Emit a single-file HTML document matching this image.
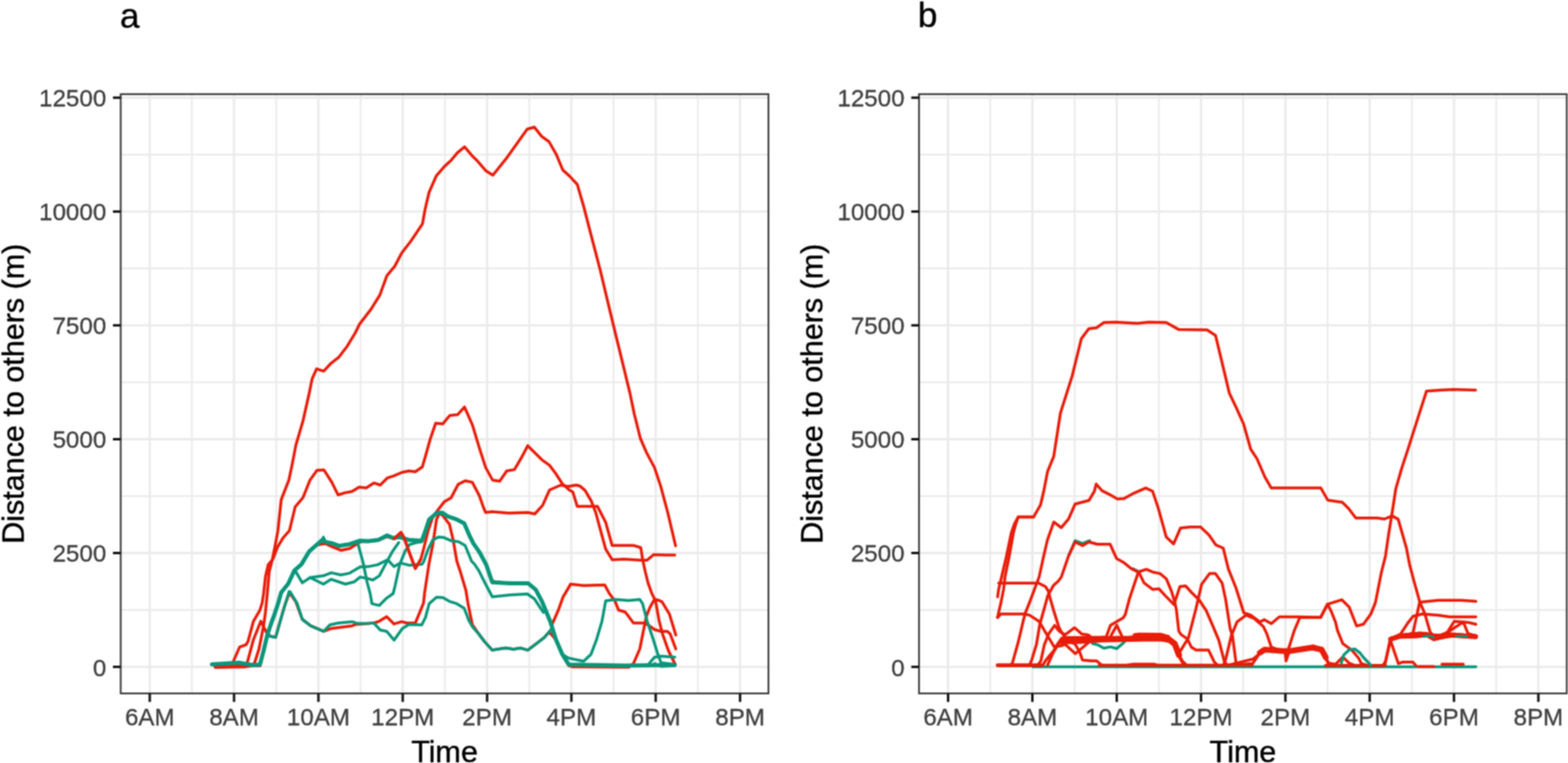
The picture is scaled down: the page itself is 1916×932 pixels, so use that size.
<!DOCTYPE html>
<html><head><meta charset="utf-8"><title>Distance to others</title>
<style>html,body{margin:0;padding:0;background:#fff;}svg{display:block;}</style>
</head><body>
<svg width="1916" height="932" viewBox="0 0 1916 932">
<style>
text{font-family:"Liberation Sans",Arial,sans-serif;}
.tk{font-size:29.5px;fill:#3F3F3F;stroke:#3F3F3F;stroke-width:0.35px;}
.ti{font-size:37.3px;fill:#000;stroke:#000;stroke-width:0.5px;}
.tg{font-size:43px;fill:#000;stroke:#000;stroke-width:0.4px;}
</style>
<defs><filter id="soft" filterUnits="userSpaceOnUse" x="-8" y="-8" width="1932" height="948" color-interpolation-filters="sRGB"><feConvolveMatrix order="3" kernelMatrix="1 2 1 2 4 2 1 2 1" divisor="16" edgeMode="none"/></filter></defs>
<g filter="url(#soft)">
<rect width="1916" height="932" fill="#fff"/>
<clipPath id="clip0"><rect x="147.5" y="115.0" width="791.5" height="732.0"/></clipPath>
<g clip-path="url(#clip0)">
<line x1="234.5" y1="115.0" x2="234.5" y2="847.0" stroke="#EBEBEB" stroke-width="2.2"/>
<line x1="337.6" y1="115.0" x2="337.6" y2="847.0" stroke="#EBEBEB" stroke-width="2.2"/>
<line x1="440.6" y1="115.0" x2="440.6" y2="847.0" stroke="#EBEBEB" stroke-width="2.2"/>
<line x1="543.6" y1="115.0" x2="543.6" y2="847.0" stroke="#EBEBEB" stroke-width="2.2"/>
<line x1="646.7" y1="115.0" x2="646.7" y2="847.0" stroke="#EBEBEB" stroke-width="2.2"/>
<line x1="749.7" y1="115.0" x2="749.7" y2="847.0" stroke="#EBEBEB" stroke-width="2.2"/>
<line x1="852.8" y1="115.0" x2="852.8" y2="847.0" stroke="#EBEBEB" stroke-width="2.2"/>
<line x1="147.5" y1="745.1" x2="939.0" y2="745.1" stroke="#EBEBEB" stroke-width="2.2"/>
<line x1="147.5" y1="606.0" x2="939.0" y2="606.0" stroke="#EBEBEB" stroke-width="2.2"/>
<line x1="147.5" y1="467.0" x2="939.0" y2="467.0" stroke="#EBEBEB" stroke-width="2.2"/>
<line x1="147.5" y1="327.9" x2="939.0" y2="327.9" stroke="#EBEBEB" stroke-width="2.2"/>
<line x1="147.5" y1="188.8" x2="939.0" y2="188.8" stroke="#EBEBEB" stroke-width="2.2"/>
<line x1="183.0" y1="115.0" x2="183.0" y2="847.0" stroke="#EBEBEB" stroke-width="2.9"/>
<line x1="286.0" y1="115.0" x2="286.0" y2="847.0" stroke="#EBEBEB" stroke-width="2.9"/>
<line x1="389.1" y1="115.0" x2="389.1" y2="847.0" stroke="#EBEBEB" stroke-width="2.9"/>
<line x1="492.1" y1="115.0" x2="492.1" y2="847.0" stroke="#EBEBEB" stroke-width="2.9"/>
<line x1="595.2" y1="115.0" x2="595.2" y2="847.0" stroke="#EBEBEB" stroke-width="2.9"/>
<line x1="698.2" y1="115.0" x2="698.2" y2="847.0" stroke="#EBEBEB" stroke-width="2.9"/>
<line x1="801.2" y1="115.0" x2="801.2" y2="847.0" stroke="#EBEBEB" stroke-width="2.9"/>
<line x1="904.3" y1="115.0" x2="904.3" y2="847.0" stroke="#EBEBEB" stroke-width="2.9"/>
<line x1="147.5" y1="814.6" x2="939.0" y2="814.6" stroke="#EBEBEB" stroke-width="2.9"/>
<line x1="147.5" y1="675.5" x2="939.0" y2="675.5" stroke="#EBEBEB" stroke-width="2.9"/>
<line x1="147.5" y1="536.5" x2="939.0" y2="536.5" stroke="#EBEBEB" stroke-width="2.9"/>
<line x1="147.5" y1="397.4" x2="939.0" y2="397.4" stroke="#EBEBEB" stroke-width="2.9"/>
<line x1="147.5" y1="258.4" x2="939.0" y2="258.4" stroke="#EBEBEB" stroke-width="2.9"/>
<line x1="147.5" y1="119.3" x2="939.0" y2="119.3" stroke="#EBEBEB" stroke-width="2.9"/>
</g>
<rect x="147.5" y="115.0" width="791.5" height="732.0" fill="none" stroke="#3C3C3C" stroke-width="2.2"/>
<line x1="138.0" y1="814.6" x2="147.5" y2="814.6" stroke="#141414" stroke-width="3.0"/>
<text transform="translate(129.8,825.5) scale(1,1.0)" text-anchor="end" class="tk">0</text>
<line x1="138.0" y1="675.5" x2="147.5" y2="675.5" stroke="#141414" stroke-width="3.0"/>
<text transform="translate(129.8,686.4) scale(1,1.0)" text-anchor="end" class="tk">2500</text>
<line x1="138.0" y1="536.5" x2="147.5" y2="536.5" stroke="#141414" stroke-width="3.0"/>
<text transform="translate(129.8,547.4) scale(1,1.0)" text-anchor="end" class="tk">5000</text>
<line x1="138.0" y1="397.4" x2="147.5" y2="397.4" stroke="#141414" stroke-width="3.0"/>
<text transform="translate(129.8,408.3) scale(1,1.0)" text-anchor="end" class="tk">7500</text>
<line x1="138.0" y1="258.4" x2="147.5" y2="258.4" stroke="#141414" stroke-width="3.0"/>
<text transform="translate(129.8,269.3) scale(1,1.0)" text-anchor="end" class="tk">10000</text>
<line x1="138.0" y1="119.3" x2="147.5" y2="119.3" stroke="#141414" stroke-width="3.0"/>
<text transform="translate(129.8,130.2) scale(1,1.0)" text-anchor="end" class="tk">12500</text>
<line x1="183.0" y1="847.0" x2="183.0" y2="857.4" stroke="#141414" stroke-width="3.0"/>
<text transform="translate(183.0,886.2) scale(1,1.0)" text-anchor="middle" class="tk">6AM</text>
<line x1="286.0" y1="847.0" x2="286.0" y2="857.4" stroke="#141414" stroke-width="3.0"/>
<text transform="translate(286.0,886.2) scale(1,1.0)" text-anchor="middle" class="tk">8AM</text>
<line x1="389.1" y1="847.0" x2="389.1" y2="857.4" stroke="#141414" stroke-width="3.0"/>
<text transform="translate(389.1,886.2) scale(1,1.0)" text-anchor="middle" class="tk">10AM</text>
<line x1="492.1" y1="847.0" x2="492.1" y2="857.4" stroke="#141414" stroke-width="3.0"/>
<text transform="translate(492.1,886.2) scale(1,1.0)" text-anchor="middle" class="tk">12PM</text>
<line x1="595.2" y1="847.0" x2="595.2" y2="857.4" stroke="#141414" stroke-width="3.0"/>
<text transform="translate(595.2,886.2) scale(1,1.0)" text-anchor="middle" class="tk">2PM</text>
<line x1="698.2" y1="847.0" x2="698.2" y2="857.4" stroke="#141414" stroke-width="3.0"/>
<text transform="translate(698.2,886.2) scale(1,1.0)" text-anchor="middle" class="tk">4PM</text>
<line x1="801.2" y1="847.0" x2="801.2" y2="857.4" stroke="#141414" stroke-width="3.0"/>
<text transform="translate(801.2,886.2) scale(1,1.0)" text-anchor="middle" class="tk">6PM</text>
<line x1="904.3" y1="847.0" x2="904.3" y2="857.4" stroke="#141414" stroke-width="3.0"/>
<text transform="translate(904.3,886.2) scale(1,1.0)" text-anchor="middle" class="tk">8PM</text>
<text x="543.2" y="930.5" text-anchor="middle" class="ti">Time</text>
<text transform="translate(29.0,480.9) rotate(-90)" text-anchor="middle" class="ti">Distance to others (m)</text>
<clipPath id="clip975"><rect x="1123.0" y="115.0" width="791.5" height="732.0"/></clipPath>
<g clip-path="url(#clip975)">
<line x1="1210.0" y1="115.0" x2="1210.0" y2="847.0" stroke="#EBEBEB" stroke-width="2.2"/>
<line x1="1313.1" y1="115.0" x2="1313.1" y2="847.0" stroke="#EBEBEB" stroke-width="2.2"/>
<line x1="1416.1" y1="115.0" x2="1416.1" y2="847.0" stroke="#EBEBEB" stroke-width="2.2"/>
<line x1="1519.1" y1="115.0" x2="1519.1" y2="847.0" stroke="#EBEBEB" stroke-width="2.2"/>
<line x1="1622.2" y1="115.0" x2="1622.2" y2="847.0" stroke="#EBEBEB" stroke-width="2.2"/>
<line x1="1725.2" y1="115.0" x2="1725.2" y2="847.0" stroke="#EBEBEB" stroke-width="2.2"/>
<line x1="1828.3" y1="115.0" x2="1828.3" y2="847.0" stroke="#EBEBEB" stroke-width="2.2"/>
<line x1="1123.0" y1="745.1" x2="1914.5" y2="745.1" stroke="#EBEBEB" stroke-width="2.2"/>
<line x1="1123.0" y1="606.0" x2="1914.5" y2="606.0" stroke="#EBEBEB" stroke-width="2.2"/>
<line x1="1123.0" y1="467.0" x2="1914.5" y2="467.0" stroke="#EBEBEB" stroke-width="2.2"/>
<line x1="1123.0" y1="327.9" x2="1914.5" y2="327.9" stroke="#EBEBEB" stroke-width="2.2"/>
<line x1="1123.0" y1="188.8" x2="1914.5" y2="188.8" stroke="#EBEBEB" stroke-width="2.2"/>
<line x1="1158.5" y1="115.0" x2="1158.5" y2="847.0" stroke="#EBEBEB" stroke-width="2.9"/>
<line x1="1261.5" y1="115.0" x2="1261.5" y2="847.0" stroke="#EBEBEB" stroke-width="2.9"/>
<line x1="1364.6" y1="115.0" x2="1364.6" y2="847.0" stroke="#EBEBEB" stroke-width="2.9"/>
<line x1="1467.6" y1="115.0" x2="1467.6" y2="847.0" stroke="#EBEBEB" stroke-width="2.9"/>
<line x1="1570.7" y1="115.0" x2="1570.7" y2="847.0" stroke="#EBEBEB" stroke-width="2.9"/>
<line x1="1673.7" y1="115.0" x2="1673.7" y2="847.0" stroke="#EBEBEB" stroke-width="2.9"/>
<line x1="1776.7" y1="115.0" x2="1776.7" y2="847.0" stroke="#EBEBEB" stroke-width="2.9"/>
<line x1="1879.8" y1="115.0" x2="1879.8" y2="847.0" stroke="#EBEBEB" stroke-width="2.9"/>
<line x1="1123.0" y1="814.6" x2="1914.5" y2="814.6" stroke="#EBEBEB" stroke-width="2.9"/>
<line x1="1123.0" y1="675.5" x2="1914.5" y2="675.5" stroke="#EBEBEB" stroke-width="2.9"/>
<line x1="1123.0" y1="536.5" x2="1914.5" y2="536.5" stroke="#EBEBEB" stroke-width="2.9"/>
<line x1="1123.0" y1="397.4" x2="1914.5" y2="397.4" stroke="#EBEBEB" stroke-width="2.9"/>
<line x1="1123.0" y1="258.4" x2="1914.5" y2="258.4" stroke="#EBEBEB" stroke-width="2.9"/>
<line x1="1123.0" y1="119.3" x2="1914.5" y2="119.3" stroke="#EBEBEB" stroke-width="2.9"/>
</g>
<rect x="1123.0" y="115.0" width="791.5" height="732.0" fill="none" stroke="#3C3C3C" stroke-width="2.2"/>
<line x1="1113.5" y1="814.6" x2="1123.0" y2="814.6" stroke="#141414" stroke-width="3.0"/>
<text transform="translate(1105.3,825.5) scale(1,1.0)" text-anchor="end" class="tk">0</text>
<line x1="1113.5" y1="675.5" x2="1123.0" y2="675.5" stroke="#141414" stroke-width="3.0"/>
<text transform="translate(1105.3,686.4) scale(1,1.0)" text-anchor="end" class="tk">2500</text>
<line x1="1113.5" y1="536.5" x2="1123.0" y2="536.5" stroke="#141414" stroke-width="3.0"/>
<text transform="translate(1105.3,547.4) scale(1,1.0)" text-anchor="end" class="tk">5000</text>
<line x1="1113.5" y1="397.4" x2="1123.0" y2="397.4" stroke="#141414" stroke-width="3.0"/>
<text transform="translate(1105.3,408.3) scale(1,1.0)" text-anchor="end" class="tk">7500</text>
<line x1="1113.5" y1="258.4" x2="1123.0" y2="258.4" stroke="#141414" stroke-width="3.0"/>
<text transform="translate(1105.3,269.3) scale(1,1.0)" text-anchor="end" class="tk">10000</text>
<line x1="1113.5" y1="119.3" x2="1123.0" y2="119.3" stroke="#141414" stroke-width="3.0"/>
<text transform="translate(1105.3,130.2) scale(1,1.0)" text-anchor="end" class="tk">12500</text>
<line x1="1158.5" y1="847.0" x2="1158.5" y2="857.4" stroke="#141414" stroke-width="3.0"/>
<text transform="translate(1158.5,886.2) scale(1,1.0)" text-anchor="middle" class="tk">6AM</text>
<line x1="1261.5" y1="847.0" x2="1261.5" y2="857.4" stroke="#141414" stroke-width="3.0"/>
<text transform="translate(1261.5,886.2) scale(1,1.0)" text-anchor="middle" class="tk">8AM</text>
<line x1="1364.6" y1="847.0" x2="1364.6" y2="857.4" stroke="#141414" stroke-width="3.0"/>
<text transform="translate(1364.6,886.2) scale(1,1.0)" text-anchor="middle" class="tk">10AM</text>
<line x1="1467.6" y1="847.0" x2="1467.6" y2="857.4" stroke="#141414" stroke-width="3.0"/>
<text transform="translate(1467.6,886.2) scale(1,1.0)" text-anchor="middle" class="tk">12PM</text>
<line x1="1570.7" y1="847.0" x2="1570.7" y2="857.4" stroke="#141414" stroke-width="3.0"/>
<text transform="translate(1570.7,886.2) scale(1,1.0)" text-anchor="middle" class="tk">2PM</text>
<line x1="1673.7" y1="847.0" x2="1673.7" y2="857.4" stroke="#141414" stroke-width="3.0"/>
<text transform="translate(1673.7,886.2) scale(1,1.0)" text-anchor="middle" class="tk">4PM</text>
<line x1="1776.7" y1="847.0" x2="1776.7" y2="857.4" stroke="#141414" stroke-width="3.0"/>
<text transform="translate(1776.7,886.2) scale(1,1.0)" text-anchor="middle" class="tk">6PM</text>
<line x1="1879.8" y1="847.0" x2="1879.8" y2="857.4" stroke="#141414" stroke-width="3.0"/>
<text transform="translate(1879.8,886.2) scale(1,1.0)" text-anchor="middle" class="tk">8PM</text>
<text x="1518.8" y="930.5" text-anchor="middle" class="ti">Time</text>
<text transform="translate(1004.5,480.9) rotate(-90)" text-anchor="middle" class="ti">Distance to others (m)</text>
<g>
<polyline points="263.0,814.8 317.6,813.0 322.1,794.9 326.6,775.7 331.1,762.2 335.6,749.8 340.1,736.3 343.6,723.7 352.2,713.0 359.7,696.9 368.3,689.4 378.0,673.3 386.5,665.8 395.1,658.5 397.3,662.0 405.9,663.6 414.5,666.8 427.3,664.7 440.0,660.4 450.0,661.1 462.4,659.4 473.1,654.0 480.4,657.2 488.3,656.1 499.6,659.4 515.4,660.6 519.9,648.2 524.4,634.6 533.4,626.8 540.1,626.2 546.9,630.7 557.0,634.1 567.2,639.2 574.0,654.9 578.5,663.9 586.3,675.2 594.2,689.9 601.5,710.1 613.4,711.8 645.2,712.4 654.7,720.3 662.4,734.9 672.7,760.0 674.5,763.0 682.7,744.2 688.3,728.4 690.6,725.0 697.3,713.5 713.1,715.2 739.0,714.6 744.6,725.0 751.4,734.0 755.9,745.3 763.8,747.5 768.3,753.2 774.0,761.0 786.3,761.0 792.0,763.3 799.9,769.0 807.7,771.2 815.6,771.2 819.0,774.6 825.8,792.6" fill="none" stroke="#E81C0A" stroke-width="3.5" stroke-linejoin="round" stroke-linecap="round"/>
<polyline points="263.0,814.8 299.0,814.5 301.8,810.6 309.7,781.3 318.7,758.8 325.5,772.3 330.0,777.0 336.8,778.5 342.4,758.8 348.0,739.6 353.7,724.0 361.5,735.1 369.4,756.5 379.6,764.4 395.4,771.2 404.4,767.8 430.3,764.4 434.8,762.7 456.8,761.0 463.5,758.8 472.5,753.2 481.5,762.2 490.6,759.4 497.3,761.0 507.5,761.0 513.1,747.5 517.6,736.3 518.7,725.0 524.4,687.6 528.9,665.1 533.4,634.6 536.5,628.0 540.0,628.5 549.2,640.3 553.7,659.4 558.2,685.4 562.7,698.9 569.4,721.4 571.7,736.3 575.1,753.2 577.3,763.3 585.2,774.6 592.0,783.6 601.5,794.1 617.9,791.6 627.6,792.9 636.3,791.6 644.9,794.1 656.5,785.4 665.2,778.6 671.0,771.9 679.3,781.3 687.2,799.4 695.1,813.0 700.0,814.5 768.3,815.0 774.0,810.6 781.8,792.6 786.3,770.1 789.7,753.2 794.2,741.9 799.9,731.8 805.5,733.5 808.9,735.1 817.9,749.8 825.8,775.7" fill="none" stroke="#E81C0A" stroke-width="3.5" stroke-linejoin="round" stroke-linecap="round"/>
<polyline points="263.0,814.8 317.6,813.0 322.1,794.9 326.6,775.7 331.1,762.2 335.6,749.8 340.1,736.3 343.6,723.7 352.2,713.0 359.7,696.9 368.3,689.4 378.0,673.3 386.5,665.8 397.3,664.0 405.9,667.9 416.6,672.2 427.3,670.0 436.0,664.5 441.0,661.5 450.0,661.5 462.4,660.0 473.0,655.5 481.5,658.0 490.0,650.4 493.9,657.2 500.7,676.3 507.5,694.4 514.2,683.1 517.6,670.7 523.2,648.2 528.9,631.3 534.1,624.3 542.7,613.1 551.3,607.9 559.9,591.6 568.5,587.3 577.1,589.1 585.7,605.4 590.8,620.0 593.4,626.0 601.1,625.1 621.7,626.8 644.9,626.0 653.5,627.7 663.0,617.4 671.5,598.5 685.3,592.5 693.9,594.2 704.2,592.5 708.6,593.7 715.0,599.1 722.5,612.0 727.9,625.9 734.3,649.5 740.1,670.7 748.0,683.7 762.7,683.1 783.0,684.2 790.8,684.2 798.7,677.5 813.4,678.0 824.6,678.0" fill="none" stroke="#E81C0A" stroke-width="3.5" stroke-linejoin="round" stroke-linecap="round"/>
<polyline points="263.0,814.8 282.0,814.5 284.9,808.4 292.8,790.4 300.7,787.5 303.0,783.6 309.7,758.8 317.6,745.3 320.4,736.3 322.1,725.0 324.4,704.5 327.7,689.9 333.4,683.1 339.0,668.5 345.8,657.2 353.7,648.2 360.7,619.1 370.2,607.9 378.8,586.4 387.3,574.4 395.9,574.1 405.4,589.0 413.1,604.5 421.7,601.9 430.3,600.2 438.8,595.0 447.4,595.9 456.9,589.9 464.6,592.5 473.2,583.9 480.9,581.3 491.2,577.0 499.8,575.3 507.5,576.2 516.1,570.2 520.4,555.6 525.6,536.7 532.4,516.9 541.0,517.8 549.6,507.5 559.1,506.6 567.6,497.2 577.1,518.6 585.7,547.0 593.4,571.0 602.0,586.5 610.6,587.8 619.2,575.3 628.6,573.6 637.2,559.0 644.9,544.4 653.5,553.0 662.1,561.6 671.5,568.4 679.3,578.7 687.0,590.8 695.6,598.5 700.0,601.0 705.4,618.4 730.0,618.4 740.1,638.0 748.0,666.2 773.9,666.2 783.0,669.0 785.2,683.1 788.6,698.9 792.0,712.4 796.5,725.0 801.0,734.0 805.5,758.8 810.0,775.7 816.8,794.9 823.5,808.4 825.0,811.0" fill="none" stroke="#E81C0A" stroke-width="3.5" stroke-linejoin="round" stroke-linecap="round"/>
<polyline points="263.0,814.8 300.0,814.5 306.0,813.0 310.8,810.6 316.5,792.6 322.1,764.4 324.4,747.5 326.6,725.0 328.9,698.9 332.8,683.1 335.6,669.6 339.6,648.2 343.6,610.5 353.0,586.4 357.3,565.8 361.6,543.5 370.2,514.3 377.9,480.0 381.5,462.4 386.9,450.6 395.5,453.4 404.0,444.2 413.7,436.7 424.4,422.7 434.1,406.6 439.4,395.9 453.4,377.6 464.1,360.5 472.7,336.9 482.4,325.1 490.9,309.0 501.7,295.0 516.2,273.6 519.4,255.9 524.3,235.0 533.1,214.9 542.8,203.6 550.8,196.3 558.9,186.7 567.7,179.4 576.6,189.9 583.8,197.1 593.5,208.4 602.3,214.0 618.4,193.9 644.2,157.7 653.0,155.3 661.9,166.6 670.8,173.0 679.6,188.3 687.7,207.6 695.7,214.9 705.4,225.3 713.4,252.7 720.4,280.0 733.3,329.4 746.1,383.0 769.7,480.0 775.1,505.8 782.6,535.8 790.1,553.0 799.8,571.2 807.3,593.7 815.9,625.9 825.5,666.7" fill="none" stroke="#E81C0A" stroke-width="3.5" stroke-linejoin="round" stroke-linecap="round"/>
<polyline points="259.0,811.5 291.7,809.5 309.7,812.5 317.6,811.8 322.1,794.9 326.6,775.7 331.1,762.2 335.6,749.8 340.1,736.3 343.6,723.7 352.2,713.0 359.7,696.9 368.3,689.4 378.0,673.3 386.5,665.8 395.1,658.5 397.3,662.0 405.9,663.6 414.5,666.8 427.3,664.7 440.0,660.4 450.0,661.1 462.4,659.4 473.1,654.0 480.4,657.2 488.3,656.1 499.6,659.4 515.4,660.6 519.9,648.2 524.4,634.6 533.4,626.8 540.1,626.2 546.9,630.7 557.0,634.1 567.2,639.2 574.0,654.9 578.5,663.9 586.3,675.2 594.2,689.9 601.5,711.2 622.9,712.6 645.2,712.4 654.7,720.3 662.4,734.9 672.7,760.0 679.3,781.3 687.2,799.4 695.1,811.8 762.7,812.9 824.6,812.3" fill="none" stroke="#0A967A" stroke-width="5.0" stroke-linejoin="round" stroke-linecap="round"/>
<polyline points="395.1,656.1 397.3,661.5" fill="none" stroke="#0A967A" stroke-width="3.5" stroke-linejoin="round" stroke-linecap="round"/>
<polyline points="437.0,662.8 443.8,687.6 448.3,710.1 452.3,725.0 454.5,737.4 463.5,739.6 472.5,730.6 480.4,725.0 482.7,715.8 488.3,689.9 495.1,673.0 500.7,665.1 508.6,662.8 515.4,661.7" fill="none" stroke="#0A967A" stroke-width="3.5" stroke-linejoin="round" stroke-linecap="round"/>
<polyline points="359.7,696.9 361.9,699.0 369.4,711.9 379.0,705.5 395.1,703.3 404.8,699.6 416.6,702.3 427.3,700.1 440.0,692.6 450.0,692.1 461.3,689.9 473.7,683.7 481.5,692.1 489.4,687.6 499.6,690.4 515.4,689.3 517.6,686.5 523.2,670.7 528.9,659.4 535.6,656.1 542.4,656.6 551.4,660.6 560.4,661.7 568.3,666.2 576.2,685.4 580.0,689.4 585.2,697.2 592.9,712.6 601.5,728.9 622.9,726.8 644.4,725.5 653.0,731.5 659.8,741.8 664.0,748.0" fill="none" stroke="#0A967A" stroke-width="3.5" stroke-linejoin="round" stroke-linecap="round"/>
<polyline points="379.0,705.5 395.1,713.5 404.8,707.6 422.0,713.5 432.7,710.8 440.0,704.9 450.0,706.8 455.6,708.5 463.5,703.4 472.5,686.5 479.3,674.1 487.2,662.8" fill="none" stroke="#0A967A" stroke-width="3.5" stroke-linejoin="round" stroke-linecap="round"/>
<polyline points="327.7,776.8 336.8,778.5 342.4,758.8 348.0,739.6 353.3,722.6 354.5,723.0 362.9,736.6 369.4,756.5 379.6,764.4 395.4,771.2 403.2,763.3 413.4,761.0 430.3,759.4 437.0,761.6 450.0,761.6 456.8,761.0 464.6,769.5 472.5,771.2 481.5,781.9 491.7,767.8 499.6,762.7 515.4,763.3 519.9,754.3 524.4,737.4 533.4,729.5 541.3,730.1 549.2,734.6 558.2,737.4 567.2,743.0 572.8,757.7 577.3,765.6 585.2,774.6 592.0,783.6 601.5,794.1 617.9,791.6 627.6,792.9 636.3,791.6 644.9,794.1 656.5,785.4 665.2,778.6 671.0,771.9 674.0,768.0" fill="none" stroke="#0A967A" stroke-width="3.5" stroke-linejoin="round" stroke-linecap="round"/>
<polyline points="687.2,799.4 695.1,803.9 713.1,807.8 722.1,799.4 728.9,781.3 735.6,758.8 740.1,734.0 751.4,732.3 768.3,733.5 781.8,732.3 785.2,737.4 790.8,758.8 797.6,779.1 803.2,797.1 807.7,809.5 824.6,811.8" fill="none" stroke="#0A967A" stroke-width="3.5" stroke-linejoin="round" stroke-linecap="round"/>
<polyline points="793.1,810.6 799.9,802.7 807.7,801.6 824.6,802.7" fill="none" stroke="#0A967A" stroke-width="3.5" stroke-linejoin="round" stroke-linecap="round"/>
<polyline points="799.9,810.6 807.7,814.0 824.6,812.9" fill="none" stroke="#0A967A" stroke-width="3.5" stroke-linejoin="round" stroke-linecap="round"/>
<polyline points="481.5,658.0 490.0,650.4 493.9,657.2 500.7,676.3 507.5,694.4 514.2,683.1" fill="none" stroke="#E81C0A" stroke-width="3.5" stroke-linejoin="round" stroke-linecap="round"/>
</g>
<g>
<polyline points="1262.0,814.6 1803.4,814.6" fill="none" stroke="#0A967A" stroke-width="3.5" stroke-linejoin="round" stroke-linecap="round"/>
<polyline points="1335.0,786.0 1342.0,787.9 1348.8,791.8 1357.0,790.1 1364.7,792.2 1372.4,785.6 1378.0,780.0" fill="none" stroke="#0A967A" stroke-width="3.5" stroke-linejoin="round" stroke-linecap="round"/>
<polyline points="1305.8,678.9 1313.7,660.5 1322.7,664.0 1331.5,660.5" fill="none" stroke="#0A967A" stroke-width="3.5" stroke-linejoin="round" stroke-linecap="round"/>
<polyline points="1384.0,694.5 1388.0,696.5 1392.0,698.5" fill="none" stroke="#0A967A" stroke-width="3.5" stroke-linejoin="round" stroke-linecap="round"/>
<polyline points="1712.0,776.0 1722.0,774.5 1726.6,773.4 1730.5,755.0 1734.7,735.6 1737.9,735.3 1757.4,733.2 1785.3,733.2 1803.4,734.6" fill="none" stroke="#E81C0A" stroke-width="3.5" stroke-linejoin="round" stroke-linecap="round"/>
<polyline points="1699.0,782.0 1710.4,778.5 1729.5,778.0 1743.5,776.5 1751.8,781.5 1771.4,777.0 1803.4,779.0" fill="none" stroke="#E81C0A" stroke-width="3.5" stroke-linejoin="round" stroke-linecap="round"/>
<polyline points="1760.0,778.0 1788.1,759.8 1793.7,773.7 1803.4,777.0" fill="none" stroke="#E81C0A" stroke-width="3.5" stroke-linejoin="round" stroke-linecap="round"/>
<polyline points="1708.6,776.0 1743.5,775.0 1760.0,776.0 1768.6,772.3 1776.9,759.1 1788.1,759.8 1795.1,760.5 1803.4,762.5" fill="none" stroke="#E81C0A" stroke-width="3.5" stroke-linejoin="round" stroke-linecap="round"/>
<polyline points="1706.0,777.0 1711.4,774.5 1721.1,759.8 1726.7,752.8 1737.9,750.0 1757.4,751.4 1771.4,753.5 1803.4,753.5" fill="none" stroke="#E81C0A" stroke-width="3.5" stroke-linejoin="round" stroke-linecap="round"/>
<polyline points="1620.0,812.7 1690.0,812.7 1693.0,808.0 1699.0,782.1 1708.7,810.5 1713.6,808.8 1726.5,808.8 1730.0,812.7" fill="none" stroke="#E81C0A" stroke-width="3.5" stroke-linejoin="round" stroke-linecap="round"/>
<polyline points="1733.0,814.3 1752.0,814.3" fill="none" stroke="#E81C0A" stroke-width="3.5" stroke-linejoin="round" stroke-linecap="round"/>
<polyline points="1762.0,811.2 1788.0,811.2" fill="none" stroke="#E81C0A" stroke-width="3.5" stroke-linejoin="round" stroke-linecap="round"/>
<polyline points="1650.0,812.7 1690.0,812.7 1692.6,810.5 1699.0,779.7 1710.4,776.5 1734.6,773.2 1743.5,773.7 1752.4,778.1 1775.1,774.9 1803.4,776.5" fill="none" stroke="#E81C0A" stroke-width="3.5" stroke-linejoin="round" stroke-linecap="round"/>
<polyline points="1500.0,812.7 1531.1,805.0 1539.5,798.0 1546.4,793.5 1570.0,794.5 1574.3,793.2 1581.3,770.9 1588.3,754.2 1613.7,754.2 1622.1,738.1 1626.3,745.8 1631.9,759.8 1634.3,770.0 1640.8,786.2 1652.1,794.3 1660.2,804.0 1663.4,810.5 1670.0,812.7" fill="none" stroke="#E81C0A" stroke-width="3.5" stroke-linejoin="round" stroke-linecap="round"/>
<polyline points="1500.0,812.7 1530.7,810.5 1539.5,797.4 1545.3,792.7 1568.0,794.3 1576.0,794.3 1603.6,789.4 1614.9,792.7 1623.0,810.5 1631.9,812.5" fill="none" stroke="#E81C0A" stroke-width="3.5" stroke-linejoin="round" stroke-linecap="round"/>
<polyline points="1343.0,812.7 1495.0,812.7 1497.6,805.8 1504.6,776.5 1511.6,759.7 1522.7,751.4 1532.5,755.5 1543.7,765.3 1547.8,773.7 1553.4,790.4 1560.4,793.2 1570.2,796.0 1571.5,807.2 1575.7,794.6 1600.0,790.4 1605.3,789.0 1615.1,793.2 1623.5,810.0 1631.9,811.4 1640.8,802.4 1648.6,810.0 1655.0,812.7" fill="none" stroke="#E81C0A" stroke-width="3.5" stroke-linejoin="round" stroke-linecap="round"/>
<polyline points="1280.0,812.5 1287.0,797.0 1292.8,787.5 1297.6,781.0 1305.0,782.0 1314.0,787.0 1319.8,797.6 1322.7,806.3 1333.4,807.2 1340.1,807.2 1345.0,811.5 1347.0,812.4 1530.0,812.4" fill="none" stroke="#E81C0A" stroke-width="3.5" stroke-linejoin="round" stroke-linecap="round"/>
<polyline points="1357.0,777.6 1364.7,763.7 1371.1,777.6" fill="none" stroke="#E81C0A" stroke-width="3.5" stroke-linejoin="round" stroke-linecap="round"/>
<polyline points="1219.0,812.7 1274.0,812.7 1277.5,807.2 1283.1,800.2 1287.0,795.6 1292.8,786.0 1297.6,779.2 1302.6,779.0 1380.0,780.0 1418.7,779.5 1429.0,781.0 1435.5,786.0 1439.4,800.0 1452.2,779.1 1461.2,744.4 1468.3,713.7 1478.1,700.5 1485.1,700.5 1493.4,712.3 1497.6,731.8 1503.2,768.1 1506.0,776.5 1510.2,808.5 1513.0,812.7" fill="none" stroke="#E81C0A" stroke-width="3.5" stroke-linejoin="round" stroke-linecap="round"/>
<polyline points="1219.0,754.2 1223.1,750.0 1251.0,750.0 1258.0,751.4 1269.7,759.0 1279.3,775.4 1288.0,789.8 1296.0,789.0 1301.5,787.0 1314.0,798.5 1327.6,787.0 1333.4,782.1 1345.0,781.5 1380.0,782.0 1418.7,781.5 1429.0,783.0 1435.5,788.0 1440.6,802.0 1444.6,809.0 1450.0,812.7" fill="none" stroke="#E81C0A" stroke-width="3.5" stroke-linejoin="round" stroke-linecap="round"/>
<polyline points="1220.3,712.3 1269.2,712.3 1277.5,716.5 1281.0,722.0 1283.0,730.0 1288.0,747.4 1293.8,765.7 1296.7,771.5 1301.5,778.5 1380.0,779.0 1418.7,778.5 1429.0,780.0 1435.5,785.6 1440.6,800.0 1444.6,807.2 1450.0,812.7" fill="none" stroke="#E81C0A" stroke-width="3.5" stroke-linejoin="round" stroke-linecap="round"/>
<polyline points="1219.0,812.7 1268.0,812.7 1271.9,807.2 1276.1,787.6 1281.7,773.7 1288.7,763.9 1294.3,771.0 1301.5,775.4 1313.1,766.7 1321.8,774.4 1329.5,775.4 1333.4,778.3 1345.0,778.5 1351.8,777.9 1357.0,763.7 1372.4,754.7 1375.0,750.8 1380.1,731.5 1390.4,700.6 1393.0,698.0 1400.7,695.4 1408.4,698.7 1417.5,700.6 1425.2,707.0 1431.6,722.5 1435.5,735.4 1437.5,745.0 1440.4,770.9 1443.2,775.1 1450.9,780.4 1455.8,790.4 1461.4,793.9 1476.7,793.9 1483.7,808.5 1488.0,812.7" fill="none" stroke="#E81C0A" stroke-width="3.5" stroke-linejoin="round" stroke-linecap="round"/>
<polyline points="1219.0,812.7 1258.0,812.7 1260.8,805.8 1266.4,787.6 1270.6,762.5 1276.1,743.0 1280.3,727.7 1287.3,715.1 1293.0,710.0 1296.8,705.0 1305.8,678.9 1313.7,662.0 1322.7,666.5 1330.6,662.0 1340.7,664.8 1356.5,664.8 1364.4,682.3 1373.4,687.3 1382.4,694.6 1391.7,699.3 1398.1,712.2 1408.4,719.9 1416.2,719.3 1423.9,727.6 1434.5,738.5 1441.8,716.5 1448.8,715.8 1455.8,723.5 1465.6,733.2 1473.9,745.8 1482.3,765.3 1489.3,782.0 1496.2,808.5 1500.0,812.7" fill="none" stroke="#E81C0A" stroke-width="3.5" stroke-linejoin="round" stroke-linecap="round"/>
<polyline points="1219.0,812.7 1234.0,812.7 1237.1,810.0 1244.1,784.8 1252.4,750.0 1258.0,736.0 1266.4,713.7 1269.7,705.0 1275.4,678.9 1279.9,659.7 1287.7,637.7 1296.8,644.5 1305.8,633.8 1313.7,615.8 1330.6,611.3 1337.3,600.0 1339.5,591.3 1346.6,599.4 1355.0,603.6 1365.5,609.6 1373.4,609.0 1385.8,602.3 1400.0,596.1 1408.4,600.0 1415.5,621.2 1425.1,656.0 1434.1,664.4 1442.5,645.0 1454.1,643.7 1467.0,643.7 1477.3,653.4 1485.6,665.6 1494.7,669.5 1501.0,695.0 1510.2,717.9 1519.9,748.6 1528.3,751.4 1539.5,759.7 1545.0,756.9 1553.4,761.8 1563.2,753.5 1585.5,753.5 1613.7,754.2 1622.1,738.1 1639.5,732.6 1648.6,741.6 1657.7,764.6 1666.0,762.5 1675.1,750.0 1680.7,736.0 1687.8,700.0 1693.0,679.1 1696.9,652.1 1700.7,628.9 1705.6,597.0 1712.5,573.0 1720.6,548.2 1731.5,514.0 1743.1,477.8 1760.5,476.4 1775.9,475.8 1803.0,476.4" fill="none" stroke="#E81C0A" stroke-width="3.5" stroke-linejoin="round" stroke-linecap="round"/>
<polyline points="1219.0,754.2 1223.1,736.0 1226.3,720.0 1228.0,705.0 1233.1,680.2 1238.3,651.0 1241.0,641.0 1244.2,631.5 1263.0,631.5" fill="none" stroke="#E81C0A" stroke-width="3.5" stroke-linejoin="round" stroke-linecap="round"/>
<polyline points="1219.0,729.0 1220.3,720.0 1225.0,700.0 1229.7,680.2 1235.7,651.0 1239.5,640.0 1244.2,631.5 1263.0,631.5 1271.4,616.9 1275.4,600.0 1280.1,575.8 1287.6,557.5 1295.8,504.5 1310.0,459.7 1321.3,413.8 1330.4,401.6 1339.6,400.6 1348.8,394.0 1363.0,393.4 1389.5,394.9 1403.8,393.4 1425.2,394.0 1440.5,402.6 1475.1,403.0 1485.3,409.7 1497.4,460.0 1502.2,480.3 1510.9,498.6 1519.6,517.9 1528.3,548.8 1536.0,560.4 1545.6,582.6 1553.4,596.1 1614.0,596.1 1622.5,611.0 1640.2,613.5 1648.0,621.2 1656.7,632.8 1682.7,632.8 1691.8,634.0 1701.0,630.1 1708.4,634.1 1713.6,652.1 1718.7,670.1 1722.5,690.0 1728.1,710.9 1735.1,736.0 1740.7,748.6 1747.6,772.3 1752.0,777.0 1771.4,774.0 1803.4,776.5" fill="none" stroke="#E81C0A" stroke-width="3.5" stroke-linejoin="round" stroke-linecap="round"/>
<polyline points="1297.6,783.2 1320.0,782.8 1345.0,781.0 1380.0,780.3 1400.0,779.3 1418.7,779.5 1429.0,781.5 1435.5,786.5 1440.6,800.0" fill="none" stroke="#E81C0A" stroke-width="7.5" stroke-linejoin="round" stroke-linecap="round"/>
<polyline points="1386.0,775.5 1392.0,774.6 1418.0,774.8 1428.0,777.5" fill="none" stroke="#E81C0A" stroke-width="3.8" stroke-linejoin="round" stroke-linecap="round"/>
<polyline points="1539.5,797.4 1545.3,793.5 1568.0,795.2 1576.0,795.2 1603.6,791.0 1614.9,793.5 1620.0,803.0" fill="none" stroke="#E81C0A" stroke-width="7.0" stroke-linejoin="round" stroke-linecap="round"/>
<polyline points="1699.0,780.7 1710.4,776.8 1734.6,774.5 1743.5,775.0 1752.4,779.0 1775.1,776.0 1803.4,777.5" fill="none" stroke="#E81C0A" stroke-width="5.5" stroke-linejoin="round" stroke-linecap="round"/>
<polyline points="1219.0,812.5 1272.0,812.5" fill="none" stroke="#E81C0A" stroke-width="4.5" stroke-linejoin="round" stroke-linecap="round"/>
<polyline points="1347.0,812.4 1530.0,812.4" fill="none" stroke="#E81C0A" stroke-width="3.0" stroke-linejoin="round" stroke-linecap="round"/>
<polyline points="1376.0,812.4 1385.0,810.8 1410.0,810.8 1416.0,812.4" fill="none" stroke="#E81C0A" stroke-width="2.6" stroke-linejoin="round" stroke-linecap="round"/>
<polyline points="1620.0,812.8 1693.0,812.8" fill="none" stroke="#E81C0A" stroke-width="3.6" stroke-linejoin="round" stroke-linecap="round"/>
<polyline points="1639.0,810.0 1642.0,800.0 1648.6,793.9 1655.3,792.7 1661.8,797.5 1666.0,803.0 1671.5,808.8 1675.0,812.5" fill="none" stroke="#0A967A" stroke-width="3.5" stroke-linejoin="round" stroke-linecap="round"/>
<polyline points="1739.0,777.6 1746.0,776.6 1752.0,778.4" fill="none" stroke="#0A967A" stroke-width="2.6" stroke-linejoin="round" stroke-linecap="round"/>
<polyline points="1779.0,777.2 1787.0,776.8 1793.0,777.6" fill="none" stroke="#0A967A" stroke-width="2.6" stroke-linejoin="round" stroke-linecap="round"/>
</g>
<text x="146.6" y="33.6" class="tg">a</text>
<text x="1121.6" y="33.3" class="tg">b</text>
</g>
</svg>
</body></html>
